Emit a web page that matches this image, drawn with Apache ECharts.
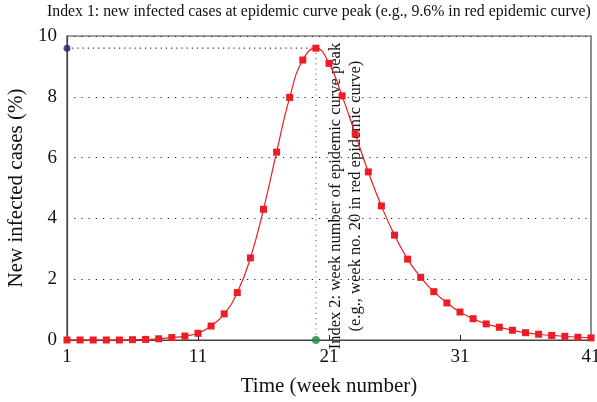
<!DOCTYPE html>
<html>
<head>
<meta charset="utf-8">
<script src="https://cdn.jsdelivr.net/npm/echarts@6/dist/echarts.min.js"></script>
<style>
  html, body { margin: 0; padding: 0; background: #fff; }
  #chart { width: 597px; height: 402px; }
</style>
</head>
<body>
<div id="chart"></div>
<script>
// Weekly share of new infections for one epidemic wave (red curve)
var weeks = [1,2,3,4,5,6,7,8,9,10,11,12,13,14,15,16,17,18,19,20,21,22,23,24,25,26,27,28,29,30,31,32,33,34,35,36,37,38,39,40,41];
var newCases = [0.00,0.00,0.00,0.00,0.00,0.01,0.02,0.04,0.08,0.13,0.22,0.46,0.86,1.56,2.70,4.30,6.18,7.98,9.21,9.60,
                9.10,8.03,6.78,5.53,4.41,3.45,2.66,2.06,1.59,1.22,0.92,0.70,0.53,0.42,0.32,0.24,0.19,0.15,0.12,0.09,0.07];
var xTickLabels = [1, 11, 21, 31, 41];
var xInnerTicks = [11, 21, 31];

var titleText = 'Index 1: new infected cases at epidemic curve peak (e.g., 9.6% in red epidemic curve)';
var peakNote = 'Index 2: week number of epidemic curve peak\n(e.g., week no. 20 in red epidemic curve)';

// locate the peak of the curve
var peakIdx = 0;
for (var i = 1; i < newCases.length; i++) { if (newCases[i] > newCases[peakIdx]) peakIdx = i; }
var peakWeek = weeks[peakIdx];
var peakValue = newCases[peakIdx];

var curve = weeks.map(function (w, i) { return [w, newCases[i]]; });

var serif = '"Liberation Serif", "DejaVu Serif", serif';
var chart = echarts.init(document.getElementById('chart'));

chart.setOption({
  animation: false,
  backgroundColor: '#fff',
  textStyle: { fontFamily: serif },
  grid: {
    left: 67, right: 6, top: 36, bottom: 62,
    outerBoundsMode: 'none',
    show: true, borderColor: '#444', borderWidth: 1.2, backgroundColor: 'transparent'
  },
  xAxis: {
    type: 'value', min: 1, max: 41,
    name: 'Time (week number)', nameLocation: 'middle', nameGap: 36,
    nameTextStyle: { fontFamily: serif, fontSize: 21, color: '#111' },
    axisLine: { show: true, lineStyle: { color: '#444', width: 1.2 } },
    axisTick: { show: true, inside: true, length: 5, customValues: xInnerTicks, lineStyle: { color: '#222' } },
    axisLabel: { customValues: xTickLabels, fontFamily: serif, fontSize: 19, color: '#111', margin: 8 },
    splitLine: { show: false }
  },
  yAxis: {
    type: 'value', min: 0, max: 10, interval: 2,
    name: 'New infected cases (%)', nameLocation: 'middle', nameGap: 39,
    nameTextStyle: { fontFamily: serif, fontSize: 21, color: '#111' },
    axisLine: { show: true, lineStyle: { color: '#444', width: 1.2 } },
    axisTick: { show: false },
    axisLabel: { fontFamily: serif, fontSize: 19, color: '#111', margin: 10 },
    splitLine: { show: true, lineStyle: { color: '#222', type: [1.2, 6], width: 1 } }
  },
  series: [
    {
      name: 'peak level', type: 'line', silent: true, z: 1,
      data: [[weeks[0], peakValue], [peakWeek, peakValue]],
      showSymbol: false, lineStyle: { color: '#22227a', width: 1.2, type: [1.2, 4] }
    },
    {
      name: 'peak week', type: 'line', silent: true, z: 1,
      data: [[peakWeek, 0], [peakWeek, peakValue]],
      showSymbol: false, lineStyle: { color: '#3a9a60', width: 1.2, type: [1.2, 4] }
    },
    {
      name: 'new cases', type: 'line', z: 3,
      data: curve, smooth: 0.5,
      symbol: 'rect', symbolSize: 7,
      itemStyle: { color: '#ee1d25' },
      lineStyle: { color: '#ee1d25', width: 1.2 }
    },
    {
      name: 'peak value marker', type: 'scatter', z: 4,
      data: [[weeks[0], peakValue]], symbol: 'circle', symbolSize: 7,
      itemStyle: { color: '#1f2266' }
    },
    {
      name: 'peak week marker', type: 'scatter', z: 4,
      data: [[peakWeek, 0]], symbol: 'circle', symbolSize: 8,
      itemStyle: { color: '#168a3c' }
    }
  ]
});

// title and vertical annotation placed from the axis scale
var base = chart.convertToPixel({ gridIndex: 0 }, [peakWeek, 0]);
var topPt = chart.convertToPixel({ gridIndex: 0 }, [peakWeek, peakValue]);
chart.setOption({
  graphic: [
    {
      type: 'text', left: 47, top: 4,
      style: { text: titleText, font: '15.8px ' + serif, fill: '#111' }
    },
    {
      type: 'text', x: base[0] + 10, y: (base[1] + topPt[1]) / 2 + 2, rotation: Math.PI / 2,
      style: {
        text: peakNote, font: '16.5px ' + serif, fill: '#111',
        align: 'center', verticalAlign: 'top', lineHeight: 20
      }
    }
  ]
});
</script>
</body>
</html>
